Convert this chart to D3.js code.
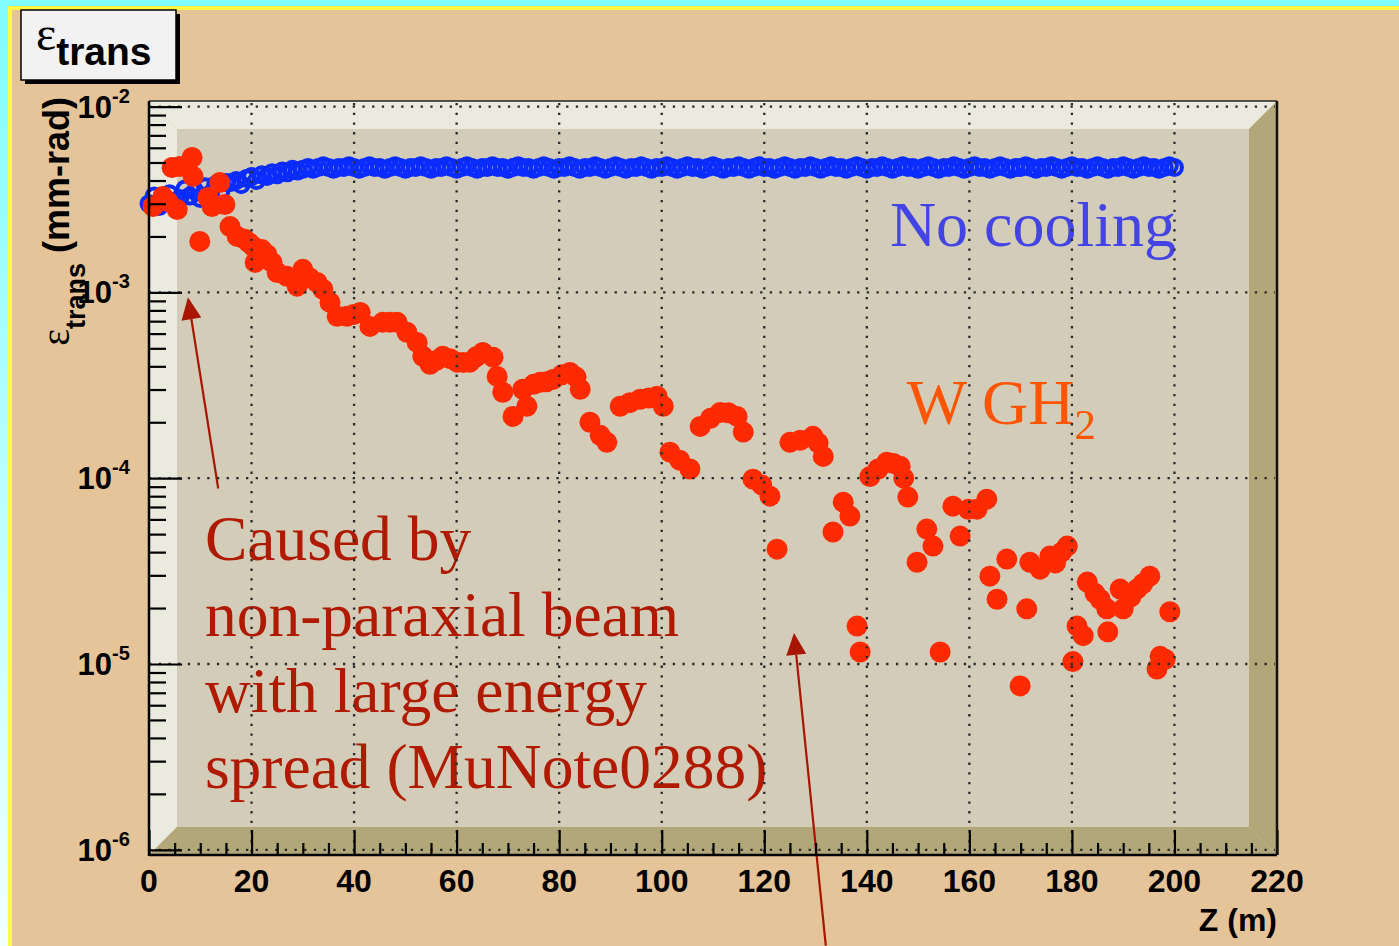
<!DOCTYPE html>
<html>
<head>
<meta charset="utf-8">
<script src="https://cdn.jsdelivr.net/npm/d3@7"></script>
<style>
  body { margin: 0; background: #e4c498; overflow: hidden; }
</style>
</head>
<body>
<div id="chart"></div>
<script>
// ---- data ----
// No cooling: z in m, emittance in units of 1e-3 mm-rad
const zBlue = [0,1,2,3,4,5,6,7,8,9,10,11,12,13,14,15,16,17,18,19,20,21,22,23,24,25,26,27,28,29,30,
  31,32,33,34,35,36,37,38,39,40,41,42,43,44,45,46,47,48,49,50,51,52,53,54,55,56,57,58,59,60,
  61,62,63,64,65,66,67,68,69,70,71,72,73,74,75,76,77,78,79,80,81,82,83,84,85,86,87,88,89,90,
  91,92,93,94,95,96,97,98,99,100,101,102,103,104,105,106,107,108,109,110,111,112,113,114,115,116,117,118,119,120,
  121,122,123,124,125,126,127,128,129,130,131,132,133,134,135,136,137,138,139,140,141,142,143,144,145,146,147,148,149,150,
  151,152,153,154,155,156,157,158,159,160,161,162,163,164,165,166,167,168,169,170,171,172,173,174,175,176,177,178,179,180,
  181,182,183,184,185,186,187,188,189,190,191,192,193,194,195,196,197,198,199,200];
const epsBlue = [3.0,3.3,2.9,3.1,3.4,3.0,3.2,3.6,3.3,3.5,3.2,3.7,3.4,3.8,3.5,3.9,
  3.9,4.0,3.8,4.1,4.2,4.0,4.3,4.2,4.4,4.3,4.5,4.4,4.6,4.5,4.6,
  4.7,4.6,4.7,4.8,4.7,4.6,4.7,4.7,4.8,4.7, 4.6,4.7,4.8,4.7,4.7,4.6,4.7,4.8,4.7,4.6,
  4.7,4.7,4.8,4.7,4.6,4.7,4.7,4.8,4.7,4.6, 4.7,4.8,4.7,4.6,4.7,4.7,4.8,4.7,4.7,4.6,
  4.7,4.8,4.7,4.7,4.6,4.7,4.8,4.7,4.6,4.7, 4.7,4.8,4.7,4.6,4.7,4.7,4.8,4.7,4.6,4.7,
  4.8,4.7,4.6,4.7,4.7,4.8,4.7,4.6,4.7,4.7, 4.8,4.7,4.6,4.7,4.8,4.7,4.7,4.6,4.7,4.8,
  4.7,4.6,4.7,4.7,4.8,4.7,4.6,4.7,4.8,4.7, 4.7,4.6,4.7,4.8,4.7,4.6,4.7,4.7,4.8,4.7,
  4.6,4.7,4.8,4.7,4.7,4.6,4.7,4.8,4.7,4.6, 4.7,4.7,4.8,4.7,4.6,4.7,4.8,4.7,4.7,4.6,
  4.7,4.8,4.7,4.6,4.7,4.7,4.8,4.7,4.6,4.7, 4.8,4.7,4.7,4.6,4.7,4.8,4.7,4.6,4.7,4.7,
  4.8,4.7,4.6,4.7,4.7,4.8,4.7,4.6,4.7,4.8, 4.7,4.7,4.6,4.7,4.8,4.7,4.6,4.7,4.7,4.8,
  4.7,4.6,4.7,4.8,4.7,4.7,4.6,4.7,4.8,4.7];

// W GH2 cooling channel: z in m, emittance in mm-rad
const zRed = [0.8,2.7,3.7,4.5,5.5,6.0,8.4,8.6,9.9,11.5,12.3,13.8,14.8,15.8,17.2,18.7,19.5,20.3,20.7,22.0,
  23.0,24.0,25.0,26.9,28.9,30.0,31.3,32.8,33.9,35.3,36.7,38.6,39.9,41.2,43.1,45.6,47.0,48.4,50.3,52.3,
  53.4,54.8,56.0,57.3,58.7,60.1,61.3,62.6,63.8,65.1,67.1,67.9,69.0,71.0,72.9,73.7,75.0,76.3,77.5,78.8,
  80.5,82.1,83.3,84.1,86.0,88.0,89.3,91.9,93.8,95.8,97.5,99.1,100.3,101.6,103.5,105.5,107.5,109.5,111.4,113.0,
  114.7,115.9,117.8,119.5,121.1,122.5,125.0,127.0,129.5,130.5,131.5,133.4,135.4,136.7,138.1,138.7,140.6,142.2,143.9,145.2,
  146.5,147.2,148.0,149.8,151.7,152.9,154.3,156.8,158.2,159.8,161.5,163.4,164.0,165.4,167.3,169.9,171.2,171.8,173.8,175.7,
  176.8,178.0,179.1,180.2,181.0,182.2,183.0,184.5,185.5,186.8,187.0,189.4,190.0,191.5,192.7,193.8,195.2,196.6,197.2,198.2,199.1];
const epsRed = [2.90e-3,3.28e-3,3.08e-3,4.70e-3,2.79e-3,4.76e-3,5.32e-3,4.21e-3,1.88e-3,3.24e-3,2.90e-3,3.90e-3,2.97e-3,2.26e-3,2.00e-3,1.93e-3,1.85e-3,1.77e-3,1.45e-3,1.70e-3,
  1.60e-3,1.45e-3,1.28e-3,1.22e-3,1.08e-3,1.33e-3,1.20e-3,1.13e-3,1.04e-3,8.83e-4,7.43e-4,7.43e-4,7.60e-4,7.80e-4,6.56e-4,6.90e-4,6.90e-4,6.90e-4,6.10e-4,5.38e-4,
  4.53e-4,4.10e-4,4.30e-4,4.53e-4,4.40e-4,4.21e-4,4.20e-4,4.21e-4,4.50e-4,4.75e-4,4.48e-4,3.53e-4,2.90e-4,2.15e-4,3.01e-4,2.44e-4,3.20e-4,3.28e-4,3.30e-4,3.40e-4,
  3.60e-4,3.71e-4,3.50e-4,3.01e-4,2.00e-4,1.70e-4,1.56e-4,2.44e-4,2.55e-4,2.66e-4,2.70e-4,2.76e-4,2.44e-4,1.38e-4,1.25e-4,1.12e-4,1.90e-4,2.10e-4,2.26e-4,2.25e-4,
  2.15e-4,1.77e-4,9.88e-5,9.20e-5,8.00e-5,4.15e-5,1.56e-4,1.60e-4,1.68e-4,1.55e-4,1.31e-4,5.13e-5,7.43e-5,6.25e-5,1.60e-5,1.16e-5,1.02e-4,1.12e-4,1.22e-4,1.20e-4,
  1.16e-4,1.00e-4,7.91e-5,3.53e-5,5.32e-5,4.31e-5,1.16e-5,7.07e-5,4.88e-5,6.80e-5,6.81e-5,7.71e-5,2.97e-5,2.23e-5,3.67e-5,7.62e-6,1.98e-5,3.53e-5,3.24e-5,3.81e-5,
  3.50e-5,4.00e-5,4.31e-5,1.03e-5,1.60e-5,1.42e-5,2.76e-5,2.40e-5,2.23e-5,1.98e-5,1.49e-5,2.53e-5,1.98e-5,2.30e-5,2.53e-5,2.70e-5,2.97e-5,9.40e-6,1.10e-5,1.06e-5,1.91e-5];

const xMajorTicks = [0, 20, 40, 60, 80, 100, 120, 140, 160, 180, 200, 220];
const yDecades = [-2, -3, -4, -5, -6];

// ---- layout ----
const W = 1399, H = 946;
const frame = {left: 149, top: 101, right: 1277, bottom: 855};
const bevel = 28;

const svg = d3.select("#chart").append("svg")
    .attr("width", W)
    .attr("height", H)
    .style("display", "block");

const x = d3.scaleLinear()
    .domain([0, 220])
    .range([frame.left, frame.right]);
const y = d3.scaleLog()
    .domain([Math.pow(10, -6.028), Math.pow(10, -1.97)])
    .range([frame.bottom, frame.top]);

// page background with the cyan / yellow edges
const defs = svg.append("defs");
const grad = defs.append("linearGradient").attr("id", "edge")
    .attr("x1", 0).attr("y1", 0).attr("x2", 0).attr("y2", 1);
grad.append("stop").attr("offset", "0%").attr("stop-color", "#7ffcff");
grad.append("stop").attr("offset", "100%").attr("stop-color", "#f2ffff");

svg.append("rect").attr("width", W).attr("height", H).attr("fill", "#e4c498");
svg.append("rect").attr("x", 0).attr("y", 0).attr("width", 8).attr("height", H).attr("fill", "url(#edge)");
svg.append("rect").attr("x", 0).attr("y", 0).attr("width", W).attr("height", 6).attr("fill", "#7ffcff");
svg.append("rect").attr("x", 8).attr("y", 6).attr("width", W - 8).attr("height", 4).attr("fill", "#fff845");
svg.append("rect").attr("x", 8).attr("y", 6).attr("width", 4).attr("height", H - 6).attr("fill", "#fff845");

// title box
svg.append("rect").attr("x", 25).attr("y", 14).attr("width", 155).attr("height", 70).attr("fill", "#000");
svg.append("rect").attr("x", 21).attr("y", 10).attr("width", 155).attr("height", 70)
    .attr("fill", "#f2f2f2").attr("stroke", "#000").attr("stroke-width", 1.5);
const title = svg.append("text").attr("x", 36).attr("y", 50);
title.append("tspan").attr("font-family", "'Liberation Serif', serif").attr("font-size", 48).text("ε");
title.append("tspan").attr("font-family", "'Liberation Sans', Arial, sans-serif").attr("font-weight", "bold")
    .attr("font-size", 39).attr("dy", 15).text("trans");

// 3D frame
const inner = {left: frame.left + bevel, top: frame.top + bevel, right: frame.right - bevel, bottom: frame.bottom - bevel};
svg.append("rect")
    .attr("x", frame.left).attr("y", frame.top)
    .attr("width", frame.right - frame.left).attr("height", frame.bottom - frame.top)
    .attr("fill", "#d2ccb8");
const poly = pts => pts.map(p => p.join(",")).join(" ");
svg.append("polygon").attr("fill", "#ebeadf").attr("points", poly([
    [frame.left, frame.top], [frame.right, frame.top], [inner.right, inner.top], [inner.left, inner.top]]));
svg.append("polygon").attr("fill", "#ebeadf").attr("points", poly([
    [frame.left, frame.top], [inner.left, inner.top], [inner.left, inner.bottom], [frame.left, frame.bottom]]));
svg.append("polygon").attr("fill", "#b1a778").attr("points", poly([
    [frame.right, frame.top], [frame.right, frame.bottom], [inner.right, inner.bottom], [inner.right, inner.top]]));
svg.append("polygon").attr("fill", "#b1a778").attr("points", poly([
    [frame.left, frame.bottom], [inner.left, inner.bottom], [inner.right, inner.bottom], [frame.right, frame.bottom]]));

// markers
svg.append("g").selectAll("circle")
    .data(zBlue)
    .enter().append("circle")
    .attr("cx", d => x(d))
    .attr("cy", (d, i) => y(epsBlue[i] * 1e-3))
    .attr("r", 7.5)
    .attr("fill", "none")
    .attr("stroke", "#0b2cff")
    .attr("stroke-width", 4);

svg.append("g").selectAll("circle")
    .data(zRed)
    .enter().append("circle")
    .attr("cx", d => x(d))
    .attr("cy", (d, i) => y(epsRed[i]))
    .attr("r", 10.5)
    .attr("fill", "#ff2a00");

// labels in the pad
const serif = "'Liberation Serif', 'Times New Roman', serif";
svg.append("text")
    .attr("x", x(144.5)).attr("y", y(1.77e-3))
    .attr("font-family", serif).attr("font-size", 64)
    .attr("fill", "#4444e4")
    .text("No cooling");

const wgh = svg.append("text")
    .attr("x", x(147.8)).attr("y", y(1.95e-4))
    .attr("font-family", serif).attr("font-size", 64)
    .attr("fill", "#ff5500");
wgh.append("tspan").text("W GH");
wgh.append("tspan").attr("font-size", 43).attr("dy", 15).text("2");

const noteLines = ["Caused by", "non-paraxial beam", "with large energy", "spread (MuNote0288)"];
svg.append("text")
    .attr("font-family", serif).attr("font-size", 63.5)
    .attr("fill", "#b01a00")
    .selectAll("tspan")
    .data(noteLines)
    .enter().append("tspan")
    .attr("x", x(10.9))
    .attr("y", (d, i) => y(3.62e-5) + i * 76)
    .text(d => d);

// arrows
function arrow(from, to) {
    const x0 = x(from[0]), y0 = y(from[1]), x1 = x(to[0]), y1 = y(to[1]);
    const a = Math.atan2(y1 - y0, x1 - x0);
    const len = 22, half = 10;
    const bx = x1 - len * Math.cos(a), by = y1 - len * Math.sin(a);
    svg.append("line")
        .attr("x1", x0).attr("y1", y0).attr("x2", bx).attr("y2", by)
        .attr("stroke", "#a81600").attr("stroke-width", 2.2);
    svg.append("polygon")
        .attr("fill", "#a81600")
        .attr("points", poly([[x1, y1],
            [bx + half * Math.sin(a), by - half * Math.cos(a)],
            [bx - half * Math.sin(a), by + half * Math.cos(a)]]));
}
arrow([13.5, 8.8e-5], [7.6, 9.4e-4]);
arrow([132.0, 3.05e-7], [125.8, 1.47e-5]);

// dotted grid, on top as in the original
const grid = svg.append("g")
    .attr("stroke", "#2a2a2a")
    .attr("stroke-width", 2.3)
    .attr("stroke-dasharray", "2.3,7.4");
grid.selectAll(".vgrid")
    .data(xMajorTicks.slice(1, -1))
    .enter().append("line")
    .attr("x1", d => x(d)).attr("x2", d => x(d))
    .attr("y1", frame.top + 2).attr("y2", frame.bottom);
grid.selectAll(".hgrid")
    .data(yDecades)
    .enter().append("line")
    .attr("x1", frame.left).attr("x2", frame.right - 2)
    .attr("y1", d => y(Math.pow(10, d))).attr("y2", d => y(Math.pow(10, d)));

// axes
const yMinor = [];
yDecades.slice(1).forEach(e => {
    for (let k = 2; k <= 9; k++) yMinor.push(k * Math.pow(10, e));
});
const xMinor = d3.range(5, 220, 5).filter(d => d % 20 !== 0);

function styleAxis(g) {
    g.select(".domain").remove();
    g.selectAll(".tick line").attr("stroke", "#000").attr("stroke-width", 2.2);
    g.selectAll(".tick text").remove();
}
svg.append("g")
    .attr("transform", `translate(${frame.left}, 0)`)
    .call(d3.axisRight(y).tickValues(yMinor).tickSize(17))
    .call(styleAxis);
svg.append("g")
    .attr("transform", `translate(${frame.left}, 0)`)
    .call(d3.axisRight(y).tickValues(yDecades.map(e => Math.pow(10, e))).tickSize(33))
    .call(styleAxis);
svg.append("g")
    .attr("transform", `translate(0, ${frame.bottom})`)
    .call(d3.axisTop(x).tickValues(xMinor).tickSize(12))
    .call(styleAxis);
svg.append("g")
    .attr("transform", `translate(0, ${frame.bottom})`)
    .call(d3.axisTop(x).tickValues(xMajorTicks).tickSize(25))
    .call(styleAxis);

// frame outline
svg.append("line").attr("x1", frame.left).attr("x2", frame.right).attr("y1", frame.top).attr("y2", frame.top)
    .attr("stroke", "#222").attr("stroke-width", 1.5);
svg.append("line").attr("x1", frame.right).attr("x2", frame.right).attr("y1", frame.top).attr("y2", frame.bottom)
    .attr("stroke", "#111").attr("stroke-width", 2.5);
svg.append("line").attr("x1", frame.left).attr("x2", frame.left).attr("y1", frame.top).attr("y2", frame.bottom + 1)
    .attr("stroke", "#000").attr("stroke-width", 2.5);
svg.append("line").attr("x1", frame.left).attr("x2", frame.right).attr("y1", frame.bottom).attr("y2", frame.bottom)
    .attr("stroke", "#000").attr("stroke-width", 2.5);

// tick labels
const sans = "'Liberation Sans', Arial, sans-serif";
svg.append("g").selectAll("text")
    .data(xMajorTicks)
    .enter().append("text")
    .attr("x", d => x(d))
    .attr("y", 892)
    .attr("text-anchor", "middle")
    .attr("font-family", sans).attr("font-weight", "bold").attr("font-size", 32)
    .attr("fill", "#000")
    .text(d => d);

const yLab = svg.append("g")
    .attr("font-family", sans).attr("font-weight", "bold").attr("fill", "#000");
yLab.selectAll(".ten")
    .data(yDecades)
    .enter().append("text")
    .attr("x", 112)
    .attr("y", d => y(Math.pow(10, d)) + 11)
    .attr("text-anchor", "end")
    .attr("font-size", 31)
    .text("10");
yLab.selectAll(".pow")
    .data(yDecades)
    .enter().append("text")
    .attr("x", 112)
    .attr("y", d => y(Math.pow(10, d)) - 4)
    .attr("font-size", 20)
    .text(d => "-" + Math.abs(d));

// axis titles
svg.append("text")
    .attr("x", frame.right)
    .attr("y", 931)
    .attr("text-anchor", "end")
    .attr("font-family", sans).attr("font-weight", "bold").attr("font-size", 32)
    .text("Z (m)");

const yTitle = svg.append("text")
    .attr("transform", `translate(69, 97) rotate(-90)`)
    .attr("text-anchor", "end");
yTitle.append("tspan").attr("font-family", serif).attr("font-size", 40).text("ε");
yTitle.append("tspan").attr("font-family", sans).attr("font-weight", "bold")
    .attr("font-size", 27).attr("dy", 16).text("trans");
yTitle.append("tspan").attr("font-family", sans).attr("font-weight", "bold")
    .attr("font-size", 36).attr("dy", -16).text(" (mm-rad)");
</script>
</body>
</html>
